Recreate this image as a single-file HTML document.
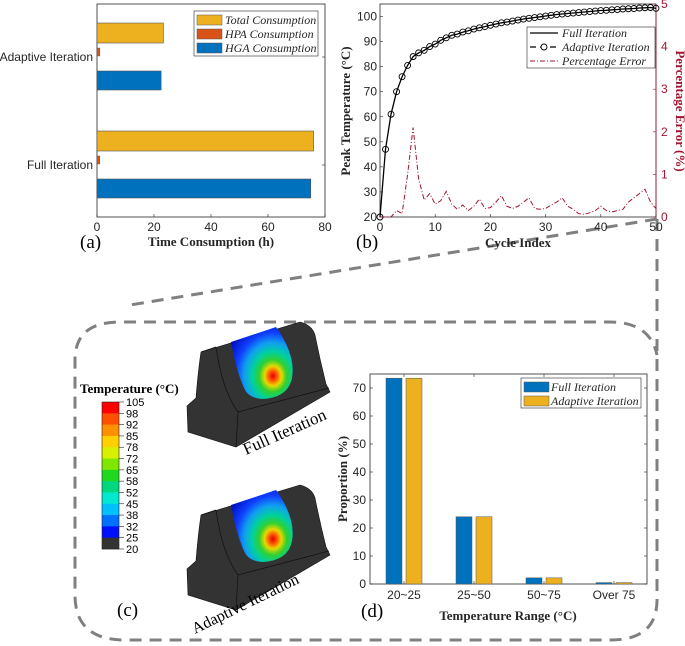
<!DOCTYPE html>
<html><head><meta charset="utf-8"><style>
html,body{margin:0;padding:0;background:#fff;}
svg{display:block;}
text{font-family:"Liberation Sans",sans-serif;}
.serif{font-family:"Liberation Serif",serif;}
</style></head><body>
<svg id="fig" width="685" height="646" viewBox="0 0 685 646" xmlns="http://www.w3.org/2000/svg">
<defs>
<radialGradient id="heat" cx="0.68" cy="0.68" r="0.8">
<stop offset="0" stop-color="#e00000"/><stop offset="0.08" stop-color="#ff5000"/><stop offset="0.17" stop-color="#e8d800"/><stop offset="0.28" stop-color="#30d030"/><stop offset="0.42" stop-color="#00d0a0"/><stop offset="0.58" stop-color="#10a0f0"/><stop offset="0.75" stop-color="#1040ff"/><stop offset="1" stop-color="#0010c0"/>
</radialGradient>
</defs>
<g id="dash" fill="none" stroke="#808080" stroke-width="3" stroke-dasharray="12,8">
<path d="M657,219 L130,305"/>
<path d="M657,219 L657,600 Q657,640 610,640 L125,640 Q75,640 75,595 L75,360 Q75,322 120,322 L610,322 Q650,322 657,355"/>
</g>
<g id="pa"></g>
<g id="pb"></g>
<g id="pc"></g>
<g id="pd"></g>
</svg>
<script>
// ---- Panel (a) data
const aCategories = ["Adaptive Iteration", "Full Iteration"];
const aTotal = [23.3, 76];
const aHPA = [1.0, 1.0];
const aHGA = [22.5, 75];
const aTicks = [0, 20, 40, 60, 80];
// ---- Panel (b) data
const bCycles = [0,1,2,3,4,5,6,7,8,9,10,11,12,13,14,15,16,17,18,19,20,21,22,23,24,25,26,27,28,29,30,31,32,33,34,35,36,37,38,39,40,41,42,43,44,45,46,47,48,49,50];
const bFull = [20,47,61,70,76,80.5,84,85.5,86.5,88,89,90.5,91.5,92.5,93,93.8,94.3,95,95.5,96,96.5,97,97.5,97.8,98.2,98.6,99,99.3,99.6,99.9,100.2,100.5,100.8,101,101.2,101.4,101.6,101.8,102,102.2,102.4,102.5,102.7,102.8,103,103.1,103.2,103.4,103.5,103.6,103.3];
const bAdaptive = [20,47,61,70,76,80.5,84,85.5,86.5,88,89,90.5,91.5,92.5,93,93.8,94.3,95,95.5,96,96.5,97,97.5,97.8,98.2,98.6,99,99.3,99.6,99.9,100.2,100.5,100.8,101,101.2,101.4,101.6,101.8,102,102.2,102.4,102.5,102.7,102.8,103,103.1,103.2,103.4,103.5,103.6,103.3];
const bError = [0,0,0,0.15,0.08,1.0,2.1,0.9,0.4,0.55,0.3,0.38,0.6,0.3,0.18,0.28,0.15,0.25,0.42,0.2,0.22,0.35,0.5,0.25,0.2,0.25,0.35,0.45,0.2,0.18,0.2,0.28,0.35,0.45,0.25,0.18,0.08,0.06,0.1,0.15,0.25,0.15,0.12,0.15,0.18,0.35,0.45,0.55,0.65,0.35,0.2];
const bXTicks = [0,10,20,30,40,50];
const bYTicks = [20,30,40,50,60,70,80,90,100];
const bY2Ticks = [0,1,2,3,4,5];
// ---- Panel (c) colorbar
const cLevels = ["105","98","92","85","78","72","65","58","52","45","38","32","25","20"];
const cColors = ["#ff0000","#ff5000","#ff9000","#ffd000","#d8f000","#80e800","#20d820","#00d880","#00e8d0","#00c0ff","#0070ff","#0010ff","#333333"];
// ---- Panel (d) data
const dCategories = ["20~25","25~50","50~75","Over 75"];
const dFull = [73.5, 24, 2.2, 0.5];
const dAdaptive = [73.5, 24, 2.2, 0.5];
const dTicks = [0,10,20,30,40,50,60,70];

const NS = "http://www.w3.org/2000/svg";
function mk(parent, tag, attrs, txt){
  const e = document.createElementNS(NS, tag);
  for (const k in attrs) e.setAttribute(k, attrs[k]);
  if (txt !== undefined) e.textContent = txt;
  parent.appendChild(e);
  return e;
}
const BLUE="#0072bd", ORANGE="#d95319", YELLOW="#edb120", RED="#a2142f";

// ===== Panel A
(function(){
  const g = document.getElementById('pa');
  const X0=97, X1=325, Y0=4, Y1=217;
  const xs = v => X0 + (v/80)*(X1-X0);
  let e = mk(g,'rect',{x:X0,y:Y0,width:X1-X0,height:Y1-Y0,fill:'#fff',stroke:'#262626','stroke-width':0.8});
   
  const groupCenter = [57, 165];
  aCategories.forEach((c,i)=>{
    const cy = groupCenter[i];
    e = mk(g,'rect',{x:X0,y:cy-34,width:xs(aTotal[i])-X0,height:20,fill:YELLOW,stroke:'#555','stroke-width':0.6});
     
    e = mk(g,'rect',{x:X0,y:cy-9,width:xs(aHPA[i])-X0,height:8,fill:ORANGE,stroke:'#555','stroke-width':0.4});
     
    e = mk(g,'rect',{x:X0,y:cy+14,width:xs(aHGA[i])-X0,height:19,fill:BLUE,stroke:'#555','stroke-width':0.6});
     
    e = mk(g,'text',{x:X0-4,y:cy+4,'text-anchor':'end','font-size':12,fill:'#262626'},c);
     
    mk(g,'line',{x1:X1,x2:X1-3,y1:cy,y2:cy,stroke:'#262626','stroke-width':0.6});
  });
  aTicks.forEach(t=>{
    mk(g,'line',{x1:xs(t),x2:xs(t),y1:Y1,y2:Y1-3,stroke:'#262626','stroke-width':0.6});
    e = mk(g,'text',{x:xs(t),y:Y1+14,'text-anchor':'middle','font-size':12,fill:'#262626'},String(t));
     
  });
  e = mk(g,'text',{x:211,y:246,'text-anchor':'middle','font-size':13,'font-weight':'bold',class:'serif',fill:'#262626'},'Time Consumption (h)');
   
  e = mk(g,'text',{x:80,y:248,'font-size':19,class:'serif',fill:'#000'},'(a)');
   
  const lg = mk(g,'g',{});
   
  mk(lg,'rect',{x:194,y:11,width:124,height:45,fill:'#fff',stroke:'#262626','stroke-width':0.6});
  [['Total Consumption',YELLOW],['HPA Consumption',ORANGE],['HGA Consumption',BLUE]].forEach((l,i)=>{
    const y=15+i*14;
    e = mk(lg,'rect',{x:197,y:y,width:25,height:10,fill:l[1],stroke:'#555','stroke-width':0.5});
     
    mk(lg,'text',{x:225,y:y+9,'font-size':12,'font-style':'italic',class:'serif',fill:'#262626'},l[0]);
  });
})();

// ===== Panel B
(function(){
  const g = document.getElementById('pb');
  const X0=380, X1=656, Y0=4, Y1=217;
  const xs = v => X0 + (v/50)*(X1-X0);
  const ys = v => Y1 - (v-20)/85*(Y1-Y0);
  const ys2 = v => Y1 - v/5*(Y1-Y0);
  let e = mk(g,'rect',{x:X0,y:Y0,width:X1-X0,height:Y1-Y0,fill:'#fff',stroke:'#262626','stroke-width':0.8});
   
  mk(g,'line',{x1:X1,x2:X1,y1:Y0,y2:Y1,stroke:RED,'stroke-width':0.8});
  bXTicks.forEach(t=>{
    mk(g,'line',{x1:xs(t),x2:xs(t),y1:Y1,y2:Y1-3,stroke:'#262626','stroke-width':0.6});
    e = mk(g,'text',{x:xs(t),y:Y1+14,'text-anchor':'middle','font-size':12,fill:'#262626'},String(t));
     
  });
  bYTicks.forEach(t=>{
    mk(g,'line',{x1:X0,x2:X0+3,y1:ys(t),y2:ys(t),stroke:'#262626','stroke-width':0.6});
    e = mk(g,'text',{x:X0-3,y:ys(t)+4,'text-anchor':'end','font-size':12,fill:'#262626'},String(t));
     
  });
  bY2Ticks.forEach(t=>{
    mk(g,'line',{x1:X1,x2:X1-3,y1:ys2(t),y2:ys2(t),stroke:RED,'stroke-width':0.6});
    e = mk(g,'text',{x:X1+5,y:ys2(t)+4,'font-size':12,fill:RED},String(t));
     
  });
  let d = bCycles.map((c,i)=>(i?'L':'M')+xs(c).toFixed(1)+','+ys2(bError[i]).toFixed(1)).join(' ');
  e = mk(g,'path',{d:d,fill:'none',stroke:RED,'stroke-width':1,'stroke-dasharray':'5,2,1,2'});
   
  d = bCycles.map((c,i)=>(i?'L':'M')+xs(c).toFixed(1)+','+ys(bFull[i]).toFixed(1)).join(' ');
  e = mk(g,'path',{d:d,fill:'none',stroke:'#000','stroke-width':1.3});
   
  bCycles.forEach((c,i)=>{
    e = mk(g,'circle',{cx:xs(c),cy:ys(bAdaptive[i]),r:3,fill:'none',stroke:'#000','stroke-width':0.9});
     
  });
  e = mk(g,'text',{x:518,y:247,'text-anchor':'middle','font-size':13,'font-weight':'bold',class:'serif',fill:'#262626'},'Cycle Index');
   
  e = mk(g,'text',{x:0,y:0,'text-anchor':'middle','font-size':13,'font-weight':'bold',class:'serif',fill:'#262626',transform:'translate(350,111) rotate(-90)'},'Peak Temperature (°C)');
   
  e = mk(g,'text',{x:0,y:0,'text-anchor':'middle','font-size':13,'font-weight':'bold',class:'serif',fill:RED,transform:'translate(676,111) rotate(90)'},'Percentage Error (%)');
   
  e = mk(g,'text',{x:356,y:248,'font-size':19,class:'serif',fill:'#000'},'(b)');
   
  const lg = mk(g,'g',{});
   
  mk(lg,'rect',{x:527,y:27,width:128,height:41,fill:'#fff',stroke:'#262626','stroke-width':0.6});
  mk(lg,'line',{x1:530,x2:558,y1:33,y2:33,stroke:'#000','stroke-width':1.3});
  mk(lg,'line',{x1:530,x2:558,y1:47,y2:47,stroke:'#000','stroke-width':1.3,'stroke-dasharray':'6,4'});
  mk(lg,'circle',{cx:544,cy:47,r:3,fill:'#fff',stroke:'#000','stroke-width':0.9});
  mk(lg,'line',{x1:530,x2:558,y1:61,y2:61,stroke:RED,'stroke-width':1,'stroke-dasharray':'5,2,1,2'});
  [['Full Iteration',37],['Adaptive Iteration',51],['Percentage Error',65]].forEach(l=>{
    e = mk(lg,'text',{x:562,y:l[1],'font-size':12,'font-style':'italic',class:'serif',fill:'#262626'},l[0]);
     
  });
})();

// ===== Panel C
(function(){
  const g = document.getElementById('pc');
  let e = mk(g,'text',{x:80,y:393,'font-size':13,'font-weight':'bold',class:'serif',fill:'#000'},'Temperature (°C)');
   
  const top=402, bot=549, n=cLevels.length-1, h=(bot-top)/n;
  for(let i=0;i<n;i++){
    e = mk(g,'rect',{x:102,y:top+i*h,width:17,height:h+0.3,fill:cColors[i]});
     
  }
  mk(g,'rect',{x:102,y:top,width:17,height:bot-top,fill:'none',stroke:'#222','stroke-width':0.6});
  cLevels.forEach((l,i)=>{
    const y = top+i*h;
    mk(g,'line',{x1:119,x2:124,y1:y,y2:y,stroke:'#222','stroke-width':0.6});
    e = mk(g,'text',{x:126,y:y+4,'font-size':11,fill:'#000'},l);
     
  });
  function block(dy, name){
    const b = mk(g,'g',{transform:'translate(0,'+dy+')'});
     
    mk(b,'path',{d:'M201,352 L300,322 Q312,325 315,335 Q320,360 326,384 L330,392 L236,447 L188,432 L187,406 L196,398 Q198,372 201,352 Z',fill:'#333',stroke:'#111','stroke-width':0.6});
    mk(b,'path',{d:'M216,347 Q222,390 238,412 L329,388',fill:'none',stroke:'#111','stroke-width':0.7});
    mk(b,'line',{x1:238,y1:412,x2:236,y2:447,stroke:'#111','stroke-width':0.7});
    mk(b,'line',{x1:201,y1:352,x2:216,y2:347,stroke:'#111','stroke-width':0.7});
    mk(b,'path',{d:'M231,342 L276,327 Q296,355 292,378 Q288,398 262,399 Q248,398 244,388 Q236,370 231,342 Z',fill:'url(#heat)'});
  }
  block(0,'full-iteration-model');
  block(163,'adaptive-iteration-model');
  e = mk(g,'text',{x:0,y:0,'font-size':17,class:'serif',fill:'#000',transform:'translate(246,455) rotate(-24)'},'Full Iteration');
   
  e = mk(g,'text',{x:0,y:0,'font-size':16,class:'serif',fill:'#000',transform:'translate(195,634) rotate(-26)'},'Adaptive Iteration');
   
  e = mk(g,'text',{x:117,y:616,'font-size':19,class:'serif',fill:'#000'},'(c)');
   
})();

// ===== Panel D
(function(){
  const g = document.getElementById('pd');
  const X0=370, X1=647, Y0=374, Y1=584;
  const ys = v => Y1 - v/75*(Y1-Y0);
  const xc = i => 404 + i*70;
  let e = mk(g,'rect',{x:X0,y:Y0,width:X1-X0,height:Y1-Y0,fill:'#fff',stroke:'#262626','stroke-width':0.8});
   
  dTicks.forEach(t=>{
    mk(g,'line',{x1:X0,x2:X0+3,y1:ys(t),y2:ys(t),stroke:'#262626','stroke-width':0.6});
    mk(g,'line',{x1:X1,x2:X1-3,y1:ys(t),y2:ys(t),stroke:'#262626','stroke-width':0.6});
    e = mk(g,'text',{x:X0-4,y:ys(t)+4,'text-anchor':'end','font-size':12,fill:'#262626'},String(t));
     
  });
  dCategories.forEach((c,i)=>{
    mk(g,'line',{x1:xc(i),x2:xc(i),y1:Y1,y2:Y1-3,stroke:'#262626','stroke-width':0.6});
    mk(g,'line',{x1:xc(i),x2:xc(i),y1:Y0,y2:Y0+3,stroke:'#262626','stroke-width':0.6});
    e = mk(g,'rect',{x:xc(i)-18,y:ys(dFull[i]),width:16,height:Y1-ys(dFull[i]),fill:BLUE,stroke:'#555','stroke-width':0.5});
     
    e = mk(g,'rect',{x:xc(i)+2,y:ys(dAdaptive[i]),width:16,height:Y1-ys(dAdaptive[i]),fill:YELLOW,stroke:'#555','stroke-width':0.5});
     
    e = mk(g,'text',{x:xc(i),y:Y1+15,'text-anchor':'middle','font-size':12,fill:'#262626'},c);
     
  });
  e = mk(g,'text',{x:508,y:620,'text-anchor':'middle','font-size':13,'font-weight':'bold',class:'serif',fill:'#262626'},'Temperature Range (°C)');
   
  e = mk(g,'text',{x:0,y:0,'text-anchor':'middle','font-size':13,'font-weight':'bold',class:'serif',fill:'#262626',transform:'translate(347,479) rotate(-90)'},'Proportion (%)');
   
  e = mk(g,'text',{x:361,y:617,'font-size':19,class:'serif',fill:'#000'},'(d)');
   
  const lg = mk(g,'g',{});
   
  mk(lg,'rect',{x:521,y:378,width:120,height:30,fill:'#fff',stroke:'#262626','stroke-width':0.6});
  [['Full Iteration',BLUE,382],['Adaptive Iteration',YELLOW,396]].forEach(l=>{
    e = mk(lg,'rect',{x:524,y:l[2],width:25,height:10,fill:l[1],stroke:'#555','stroke-width':0.5});
     
    mk(lg,'text',{x:551,y:l[2]+9,'font-size':12,'font-style':'italic',class:'serif',fill:'#262626'},l[0]);
  });
})();
</script>
</body></html>
